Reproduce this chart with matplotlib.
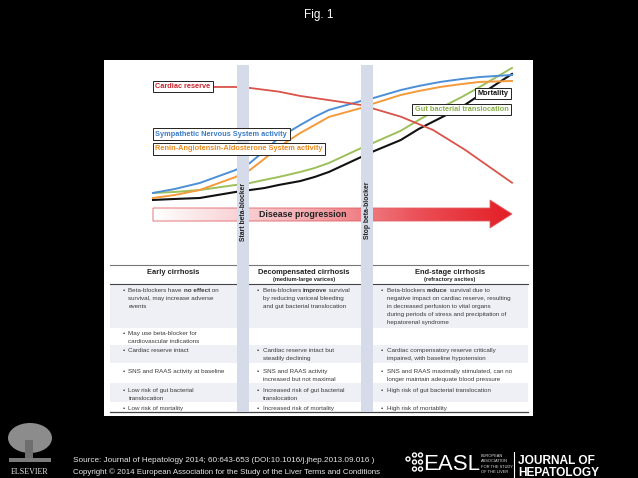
import numpy as np
import matplotlib
matplotlib.use("Agg")
import matplotlib.pyplot as plt
from matplotlib.patches import Rectangle, Polygon, Circle, Ellipse
from matplotlib.colors import LinearSegmentedColormap

plt.rcParams['font.family'] = ['Liberation Sans', 'DejaVu Sans']

# curve data: disease progression (0-100) vs relative level (0-100)
prog = [0, 6, 13, 23, 27, 31, 35, 41, 45, 49, 58, 61, 69, 74, 80, 86, 91, 100]
sns_act = [8.6, 11.4, 15.7, 25, 30, 38.6, 47.9, 57.1, 62.9, 67.9, 74.3, 76.1, 82.1, 85, 87.9, 90, 91.4, 92.9]
raas_act = [5, 7.1, 10.7, 20, 25, 32.9, 41.4, 51.4, 57.1, 62.9, 69.3, 72.1, 78.6, 81.4, 84.3, 86.4, 87.9, 88.6]
gut_trans = [8.6, 9.3, 10.7, 14.3, 15.7, 17.9, 20, 23.6, 26.4, 30, 40.7, 44, 53, 60.7, 69.3, 77.1, 84.3, 97.9]
mortality = [3.6, 4.3, 5, 9.3, 10.7, 12.1, 14.3, 17.1, 20, 23.6, 34.3, 37.9, 46.4, 54.3, 62.1, 70, 78.6, 93.6]
cardiac_prog = [16, 23, 27, 35, 41, 52, 58, 69, 78, 87, 100]
cardiac = [84.3, 84.3, 83.6, 81, 77.9, 73.8, 71.4, 63.1, 53.6, 39.3, 15.9]

stages = ["Early cirrhosis", "Decompensated cirrhosis", "End-stage cirrhosis"]
stage_notes = ["", "(medium-large varices)", "(refractory ascites)"]

col1 = [["Beta-blockers have **no effect** on", "survival, may increase adverse", "events"],
        ["May use beta-blocker for", "cardiovascular indications"],
        ["Cardiac reserve intact"],
        ["SNS and RAAS activity at baseline"],
        ["Low risk of gut bacterial", "translocation"],
        ["Low risk of mortality"]]
col2 = [["Beta-blockers **improve** survival", "by reducing variceal bleeding", "and gut bacterial translocation"],
        [],
        ["Cardiac reserve intact but", "steadily declining"],
        ["SNS and RAAS activity", "increased but not maximal"],
        ["Increased risk of gut bacterial", "translocation"],
        ["Increased risk of mortality"]]
col3 = [["Beta-blockers **reduce** survival due to", "negative impact on cardiac reserve, resulting",
         "in decreased perfusion to vital organs", "during periods of stress and precipitation of",
         "hepatorenal syndrome"],
        [],
        ["Cardiac compensatory reserve critically", "impaired, with baseline hypotension"],
        ["SNS and RAAS maximally stimulated, can no", "longer maintain adequate blood pressure"],
        ["High risk of gut bacterial translocation"],
        ["High risk of mortablity"]]

W, H = 638, 478
fig = plt.figure(figsize=(6.38, 4.78), dpi=100, facecolor='black')
ax = fig.add_axes([0, 0, 1, 1])
ax.set_zorder(0)
ax.axis('off')
ax.set_xlim(0, W)
ax.set_ylim(H, 0)
renderer = fig.canvas.get_renderer()

# white panel
ax.add_patch(Rectangle((104, 60), 429, 356, fc='white', ec='none'))

# disease progression arrow with gradient
arrow = Polygon([(153, 208), (490, 208), (490, 200), (512, 214), (490, 228), (490, 221), (153, 221)],
                closed=True, fc='none', ec='#e06068', lw=0.6, zorder=3)
ax.add_patch(arrow)
cmap = LinearSegmentedColormap.from_list('prog', [(0, '#ffffff'), (0.4, '#f4b3b8'),
                                                  (0.75, '#eb4d54'), (1, '#e31e26')])
im = ax.imshow(np.linspace(0, 1, 256).reshape(1, -1), cmap=cmap, extent=[153, 512, 228, 200],
               aspect='auto', zorder=2)
im.set_clip_path(arrow)
ax.text(303, 214.5, "Disease progression", fontsize=6.4, fontweight='bold', color='#222',
        ha='center', va='center', zorder=4)

# table
gray = '#eef0f5'
for y0, y1 in [(284, 328), (345, 363), (383, 402)]:
    ax.add_patch(Rectangle((110, y0), 418, y1 - y0, fc=gray, ec='none', zorder=1))
ax.plot([110, 528], [265, 265], color='#777', lw=0.8, zorder=2)
ax.plot([110, 528], [284, 284], color='#444', lw=0.8, zorder=2)
ax.plot([110, 528], [412, 412], color='#444', lw=0.9, zorder=2)

for cx, st, note in zip([173, 304, 450], stages, stage_notes):
    ax.text(cx, 272, st, fontsize=5.4, fontweight='bold', color='#222', ha='center', va='center')
    if note:
        ax.text(cx, 279.5, note, fontsize=4.1, fontweight='bold', color='#222', ha='center', va='center')


def width_of(s, size, weight):
    # measure with a guard character so trailing spaces count
    a = ax.text(0, 0, s + "|", fontsize=size, fontweight=weight)
    b = ax.text(0, 0, "|", fontsize=size, fontweight=weight)
    w = a.get_window_extent(renderer).width - b.get_window_extent(renderer).width
    a.remove()
    b.remove()
    return w


def rich_line(x, y, line, size=4.5, color='#3a3a3a'):
    for i, seg in enumerate(line.split('**')):
        if not seg:
            continue
        wt = 'bold' if i % 2 else 'normal'
        ax.text(x, y, seg, fontsize=size, fontweight=wt, color=color, ha='left', va='baseline', zorder=3)
        x += width_of(seg, size, wt)


row_y = [290, 332.5, 350, 370.5, 390, 408]
for bx, col in zip([122.5, 257, 381], [col1, col2, col3]):
    for y0, lines in zip(row_y, col):
        for k, line in enumerate(lines):
            y = y0 + k * 8 + 2.2
            if k == 0:
                ax.text(bx, y, "\u2022", fontsize=4.5, color='#3a3a3a', ha='left', va='baseline')
            rich_line(bx + 6, y, line)

# header / footer
ax.text(319, 15, "Fig. 1", fontsize=8.5, color='white', ha='center', va='center')
ax.text(73, 460, "Source: Journal of Hepatology 2014; 60:643-653 (DOI:10.1016/j.jhep.2013.09.016 )",
        fontsize=5.9, color='#e6e6e6', ha='left', va='center')
ax.text(73, 472, "Copyright \u00a9 2014 European Association for the Study of the Liver Terms and Conditions",
        fontsize=5.7, color='#e6e6e6', ha='left', va='center')
# elsevier logo
ax.add_patch(Ellipse((30, 438), 44, 30, fc='#8c8c8c', ec='none'))
ax.add_patch(Rectangle((25, 440), 8, 22, fc='#6e6e6e', ec='none'))
ax.add_patch(Rectangle((9, 458), 42, 4, fc='#7a7a7a', ec='none'))
ax.text(30, 472, "ELSEVIER", fontsize=5.8, color='#e6e6e6', family='Liberation Serif', ha='center', va='center')
# EASL logo
for (dx, dy) in [(408, 459), (414.5, 455), (420.5, 455), (414.5, 462), (420.5, 462), (414.5, 469), (420.5, 469)]:
    ax.add_patch(Circle((dx, dy), 2.0, fc='none', ec='white', lw=1.0))
ax.text(423, 465, "EASL", fontsize=16, color='white', ha='left', va='center')
for k, s in enumerate(["EUROPEAN", "ASSOCIATION", "FOR THE STUDY", "OF THE LIVER"]):
    ax.text(481, 456 + k * 5.3, s, fontsize=2.9, color='#dddddd', ha='left', va='center')
ax.plot([514, 514], [452, 477], color='white', lw=0.8)
ax.text(518, 461, "JOURNAL OF", fontsize=8.6, fontweight='bold', color='white', ha='left', va='center')
ax.text(518, 472.5, "HEPATOLOGY", fontsize=8.6, fontweight='bold', color='white', ha='left', va='center')

ax.set_xlim(0, W)
ax.set_ylim(H, 0)

# curve axes
cax = fig.add_axes([153 / W, 1 - 205 / H, (512 - 153) / W, 140 / H])
cax.set_zorder(1)
cax.set_xlim(0, 100)
cax.set_ylim(0, 100)
cax.axis('off')
cax.plot(prog, gut_trans, color='#9cc05a', lw=1.4, zorder=2, clip_on=False)
cax.plot(prog, mortality, color='#111111', lw=1.5, zorder=2, clip_on=False)
cax.plot(prog, raas_act, color='#f39a3a', lw=1.4, zorder=2, clip_on=False)
cax.plot(prog, sns_act, color='#4d8fd6', lw=1.4, zorder=2, clip_on=False)
cax.plot(cardiac_prog, cardiac, color='#d9534a', lw=1.3, zorder=2, clip_on=False)

# beta-blocker bands (drawn in panel pixel coordinates)
for bx0, lab, ly in [(237, "Start beta-blocker", 212), (361, "Stop beta-blocker", 210)]:
    cax.add_patch(Rectangle((bx0, 65), 12, 347, fc='#d5dbe8', ec='none', transform=ax.transData,
                            zorder=3, clip_on=False))
    cax.text(bx0 + 6.3, ly, lab, fontsize=4.9, fontweight='bold', color='#222', rotation=90,
             ha='center', va='center', transform=ax.transData, zorder=4, clip_on=False)

box = dict(boxstyle='square,pad=0.32', fc='white', ec='#222', lw=0.7)
labels = [(155.4, 86.5, "Cardiac reserve", '#c9252c', 'left'),
          (155.4, 134, "Sympathetic Nervous System activity", '#3b7cc4', 'left'),
          (155.4, 149, "Renin-Angiotensin-Aldosterone System activity", '#ea8a1e', 'left'),
          (508.6, 93.5, "Mortality", '#111111', 'right'),
          (508.6, 109.5, "Gut bacterial translocation", '#8ab04b', 'right')]
for lx, ly, s, c, ha in labels:
    cax.text(lx, ly, s, fontsize=5.3, fontweight='bold', color=c, ha=ha, va='center', bbox=box,
             transform=ax.transData, zorder=6, clip_on=False)

fig.savefig("out.png", dpi=100, facecolor='black')
